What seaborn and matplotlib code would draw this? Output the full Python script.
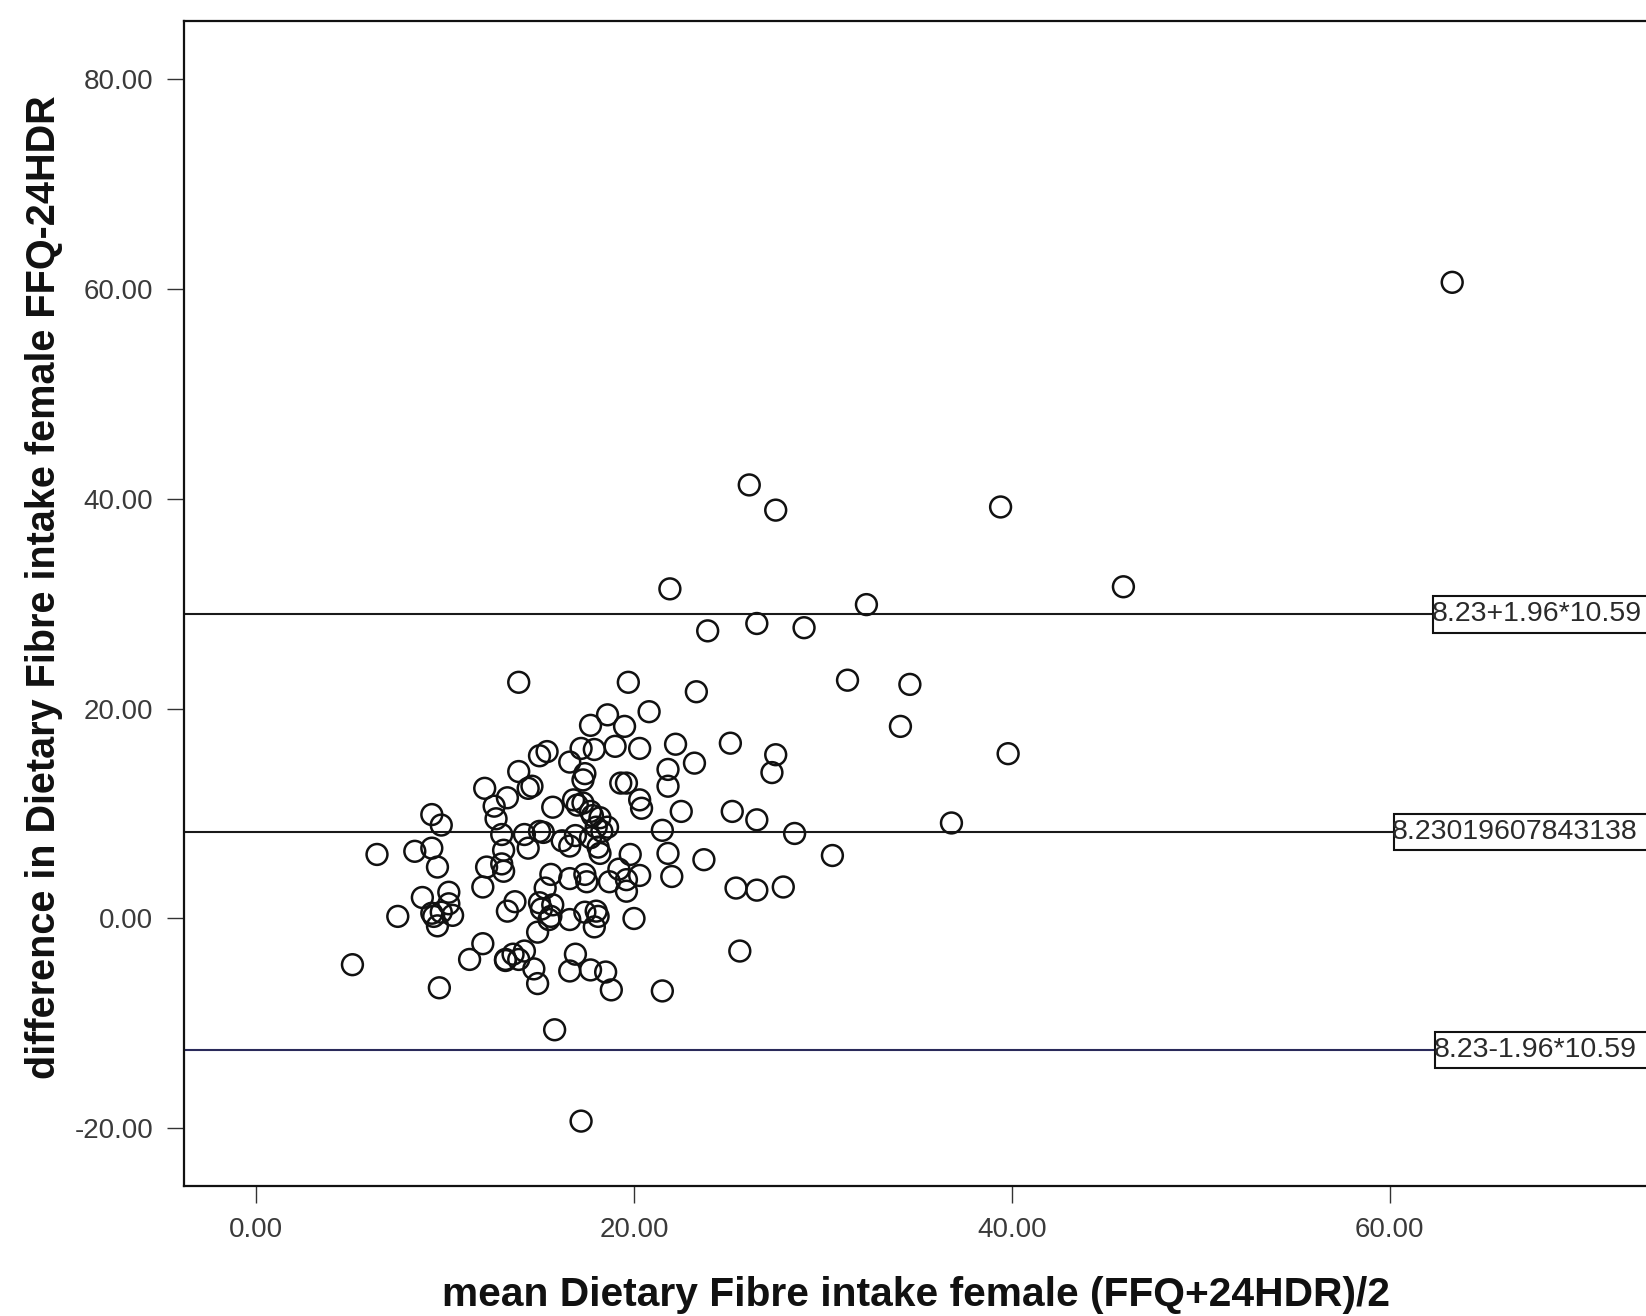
import numpy as np
import pandas as pd
import matplotlib
matplotlib.use("Agg")
import matplotlib.pyplot as plt
from matplotlib.patches import Rectangle
import seaborn as sns

# Mean intake (FFQ+24HDR)/2 and difference (FFQ-24HDR) per participant
mean_intake = [
    63.3, 26.1, 27.5, 39.4, 45.9, 21.9, 32.3, 23.9, 26.5, 29.0,
    13.9, 19.7, 23.3, 31.3, 34.6, 34.1, 39.8, 20.8, 18.6, 19.5,
    17.7, 25.1, 22.2, 19.0, 20.3, 17.2, 17.9, 15.4, 15.0, 27.5,
    23.2, 16.6, 27.3, 21.8, 13.9, 17.4, 17.3, 19.6, 19.3, 14.6,
    14.4, 12.1, 21.8, 13.3, 12.6, 20.3, 16.8, 17.3, 15.7, 20.4,
    22.5, 25.2, 26.5, 17.7, 18.2, 9.3, 12.7, 36.8, 18.0, 18.6,
    9.8, 21.5, 14.2, 15.2, 28.5, 13.0, 16.9, 17.7, 16.6, 18.1,
    14.4, 8.4, 9.3, 13.1, 6.4, 19.8, 21.8, 18.2, 30.5, 23.7,
    12.2, 13.0, 9.6, 13.1, 19.2, 17.4, 15.6, 20.3, 22.0, 16.6,
    19.6, 17.5, 18.7, 12.0, 15.3, 25.4, 26.5, 27.9, 19.6, 10.2,
    8.8, 13.7, 15.0, 10.2, 15.7, 15.1, 13.3, 9.3, 9.8, 17.4,
    18.0, 7.5, 9.4, 10.4, 15.6, 16.6, 18.1, 20.0, 15.5, 9.6,
    17.9, 14.9, 12.0, 14.2, 13.6, 13.2, 13.9, 16.9, 25.6, 11.3,
    13.2, 5.1, 14.7, 16.6, 17.7, 18.5, 14.9, 9.7, 18.8, 21.5,
    15.8, 17.2, 17.8, 18.3, 17.0, 16.2, 15.0,
]
difference = [
    60.6, 41.3, 38.9, 39.2, 31.6, 31.4, 29.9, 27.4, 28.1, 27.7,
    22.5, 22.5, 21.6, 22.7, 22.3, 18.3, 15.7, 19.7, 19.4, 18.3,
    18.4, 16.7, 16.6, 16.4, 16.2, 16.2, 16.1, 15.9, 15.5, 15.6,
    14.8, 14.9, 13.9, 14.2, 14.0, 13.8, 13.2, 12.9, 12.9, 12.6,
    12.4, 12.4, 12.6, 11.5, 10.7, 11.3, 11.3, 11.0, 10.6, 10.5,
    10.2, 10.2, 9.4, 10.2, 9.6, 9.9, 9.5, 9.1, 8.7, 8.7,
    8.9, 8.4, 8.0, 8.2, 8.1, 8.0, 7.9, 7.7, 6.9, 6.8,
    6.7, 6.4, 6.7, 6.5, 6.1, 6.1, 6.2, 6.2, 6.0, 5.6,
    4.9, 5.2, 4.9, 4.5, 4.7, 4.2, 4.2, 4.1, 4.0, 3.8,
    3.7, 3.5, 3.5, 3.0, 2.9, 2.9, 2.7, 3.0, 2.6, 2.5,
    2.0, 1.6, 1.5, 1.4, 1.3, 0.9, 0.7, 0.5, 0.6, 0.6,
    0.7, 0.2, 0.2, 0.3, 0.2, -0.1, 0.2, 0.0, -0.1, -0.7,
    -0.8, -1.3, -2.4, -3.1, -3.4, -3.9, -3.9, -3.4, -3.1, -3.9,
    -4.0, -4.4, -4.8, -5.0, -4.9, -5.1, -6.2, -6.6, -6.8, -6.9,
    -10.6, -19.3, 9.8, 8.3, 10.8, 7.4, 8.3,
]

# Limits of agreement
mean_diff = 8.23019607843138
sd_diff = 10.59
upper_loa = 8.23 + 1.96 * sd_diff
lower_loa = 8.23 - 1.96 * sd_diff
line_labels = ["8.23+1.96*10.59", "8.23019607843138", "8.23-1.96*10.59"]

x_ticks = [0, 20, 40, 60]
y_ticks = [-20, 0, 20, 40, 60, 80]

df = pd.DataFrame({"mean": mean_intake, "diff": difference})

sns.set_theme(style="ticks")
plt.rcParams["font.family"] = ["Liberation Sans", "DejaVu Sans"]

fig = plt.figure(figsize=(16.46, 13.16), dpi=100)
ax = fig.add_axes([0.1116, 0.0988, 0.9222, 0.8853])

# Reference lines: mean difference and limits of agreement
ax.axhline(upper_loa, color="#1a1a1a", lw=1.5, zorder=1)
ax.axhline(mean_diff, color="#1a1a1a", lw=1.5, zorder=1)
ax.axhline(lower_loa, color="#2a2a5a", lw=1.5, zorder=1)

sns.scatterplot(data=df, x="mean", y="diff", ax=ax, marker="o", s=225,
                facecolor="none", edgecolor="#111111", linewidth=1.8,
                zorder=3, legend=False)

ax.set_xticks(x_ticks)
ax.set_yticks(y_ticks)
ax.set_xticklabels([f"{v:.2f}" for v in x_ticks])
ax.set_yticklabels([f"{v:.2f}" for v in y_ticks])
ax.set_xlim(-3.83, 76.5)
ax.set_ylim(-25.48, 85.5)
ax.tick_params(axis="both", direction="out", length=12, width=1,
               color="#333333", labelsize=20, labelcolor="#3a3a3a", pad=10)

for side in ["left", "bottom", "top", "right"]:
    ax.spines[side].set_color("#111111")
    ax.spines[side].set_linewidth(1.6)
ax.set_facecolor("white")

ax.set_xlabel("")
ax.set_ylabel("")

# Labelled boxes at the right end of each reference line
box_h = 3.5
for level, label, x0 in zip([upper_loa, mean_diff, lower_loa], line_labels,
                            [62.3, 60.2, 62.4]):
    rect = Rectangle((x0, level - box_h / 2), 30, box_h, facecolor="white",
                     edgecolor="#111111", lw=1.5, zorder=4)
    ax.add_patch(rect)
    ax.text(x0 - 0.1, level, label, ha="left", va="center", fontsize=20.5,
            color="#2a2a2a", zorder=5)

fig.text(0.5565, 1 - 1295 / 1316, "mean Dietary Fibre intake female (FFQ+24HDR)/2",
         ha="center", va="center", fontsize=29.3, fontweight="bold", color="#111111")
fig.text(44 / 1646, 1 - 587 / 1316,
         "difference in Dietary Fibre intake female FFQ-24HDR",
         ha="center", va="center", rotation=90, fontsize=28.5,
         fontweight="bold", color="#111111")

fig.savefig("out.png", dpi=100, facecolor="white")
